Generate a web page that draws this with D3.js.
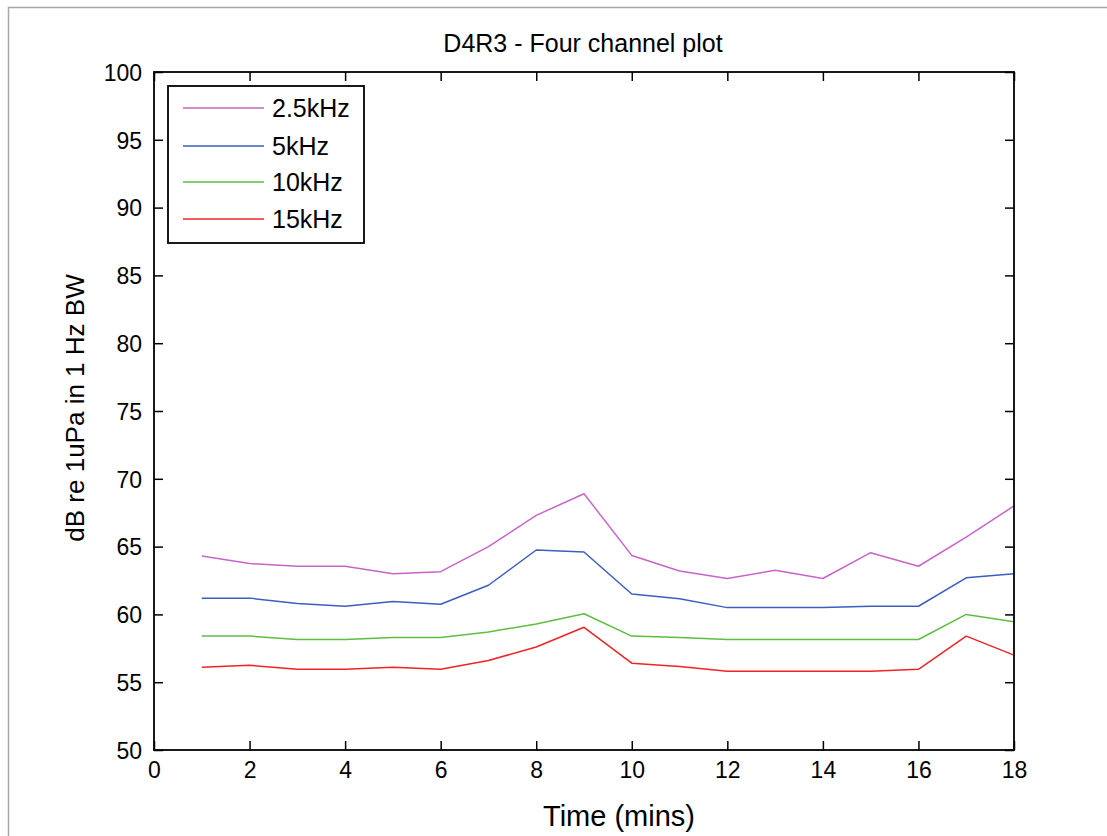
<!DOCTYPE html>
<html>
<head>
<meta charset="utf-8">
<script src="https://cdn.jsdelivr.net/npm/d3@7"></script>
<style>
  html, body { margin: 0; padding: 0; background: #fff; }
  svg { display: block; }
  text { font-family: "Liberation Sans", Arial, sans-serif; fill: #000; }
</style>
</head>
<body>
<svg id="chart" width="1107" height="836"></svg>
<script>
// ---- data ----
const times = [1, 2, 3, 4, 5, 6, 7, 8, 9, 10, 11, 12, 13, 14, 15, 16, 17, 18];
const seriesNames = ["2.5kHz", "5kHz", "10kHz", "15kHz"];
const seriesColors = ["#c864c8", "#3c5fbe", "#5cbf40", "#f02424"];
const values2_5k = [64.3, 63.75, 63.55, 63.55, 63.0, 63.15, 65.0, 67.3, 68.9, 64.35, 63.2, 62.65, 63.25, 62.65, 64.55, 63.55, 65.7, 68.0];
const values5k   = [61.2, 61.2, 60.8, 60.6, 60.95, 60.75, 62.15, 64.75, 64.6, 61.5, 61.15, 60.5, 60.5, 60.5, 60.6, 60.6, 62.7, 63.0];
const values10k  = [58.4, 58.4, 58.15, 58.15, 58.3, 58.3, 58.7, 59.3, 60.05, 58.4, 58.3, 58.15, 58.15, 58.15, 58.15, 58.15, 60.0, 59.45];
const values15k  = [56.1, 56.25, 55.95, 55.95, 56.1, 55.95, 56.6, 57.6, 59.05, 56.4, 56.15, 55.8, 55.8, 55.8, 55.8, 55.95, 58.4, 57.0];
const xTicks = [0, 2, 4, 6, 8, 10, 12, 14, 16, 18];
const yTicks = [50, 55, 60, 65, 70, 75, 80, 85, 90, 95, 100];
const titleText = "D4R3 - Four channel plot";
const xLabelText = "Time (mins)";
const yLabelText = "dB re 1uPa in 1 Hz BW";

const allSeries = [values2_5k, values5k, values10k, values15k];

// ---- layout ----
const svg = d3.select("#chart");
const pLeft = 154, pRight = 1014, pTop = 72, pBottom = 750;

// outer figure frame
svg.append("rect").attr("x", 8.5).attr("y", 7.5).attr("width", 1120).attr("height", 860)
  .attr("fill", "#fff").attr("stroke", "#a8a8a8").attr("stroke-width", 1.5);

const x = d3.scaleLinear().domain([0, 18]).range([pLeft, pRight]);
const y = d3.scaleLinear().domain([50, 100]).range([pBottom, pTop]);

const tickLen = 9;

// axes (inward ticks)
const gx = svg.append("g").attr("transform", `translate(0,${pBottom})`)
  .call(d3.axisBottom(x).tickValues(xTicks).tickSizeInner(-tickLen).tickSizeOuter(0));
const gxTop = svg.append("g").attr("transform", `translate(0,${pTop})`)
  .call(d3.axisTop(x).tickValues(xTicks).tickSizeInner(-tickLen).tickSizeOuter(0).tickFormat(""));
const gy = svg.append("g").attr("transform", `translate(${pLeft},0)`)
  .call(d3.axisLeft(y).tickValues(yTicks).tickSizeInner(-tickLen).tickSizeOuter(0));
const gyRight = svg.append("g").attr("transform", `translate(${pRight},0)`)
  .call(d3.axisRight(y).tickValues(yTicks).tickSizeInner(-tickLen).tickSizeOuter(0).tickFormat(""));

[gx, gxTop, gy, gyRight].forEach(g => {
  g.select(".domain").remove();
  g.selectAll(".tick line").attr("stroke", "#000").attr("stroke-width", 1.5);
  g.selectAll(".tick text").attr("font-size", 23).attr("font-family", "Liberation Sans, Arial, sans-serif").attr("fill", "#000");
});
gx.selectAll(".tick text").attr("y", 12).attr("dy", "0.71em");
gy.selectAll(".tick text").attr("x", -12).attr("dy", "0.36em");

// series lines
const line = d3.line().x((d, i) => x(times[i])).y(d => y(d));
allSeries.forEach((vals, k) => {
  svg.append("path").datum(vals)
    .attr("d", line)
    .attr("fill", "none")
    .attr("stroke", seriesColors[k])
    .attr("stroke-width", 1.5)
    .attr("stroke-linejoin", "round");
});

// box
svg.append("rect").attr("x", pLeft).attr("y", pTop).attr("width", pRight - pLeft).attr("height", pBottom - pTop)
  .attr("fill", "none").attr("stroke", "#000").attr("stroke-width", 1.8);

// title and labels
svg.append("text").attr("x", 583).attr("y", 52).attr("text-anchor", "middle")
  .attr("font-size", 25).text(titleText);
svg.append("text").attr("x", 619).attr("y", 826).attr("text-anchor", "middle")
  .attr("font-size", 29).text(xLabelText);
svg.append("text").attr("transform", `translate(84,408) rotate(-90)`).attr("text-anchor", "middle")
  .attr("font-size", 26).text(yLabelText);

// legend
const lg = svg.append("g");
lg.append("rect").attr("x", 168).attr("y", 86).attr("width", 196).attr("height", 157)
  .attr("fill", "#fff").attr("stroke", "#000").attr("stroke-width", 1.8);
const rowY = [108, 146, 182, 219];
seriesNames.forEach((name, k) => {
  lg.append("line").attr("x1", 183).attr("x2", 264).attr("y1", rowY[k]).attr("y2", rowY[k])
    .attr("stroke", seriesColors[k]).attr("stroke-width", 1.5);
  lg.append("text").attr("x", 272).attr("y", rowY[k]).attr("dy", "0.36em")
    .attr("font-size", 25).text(name);
});
</script>
</body>
</html>
